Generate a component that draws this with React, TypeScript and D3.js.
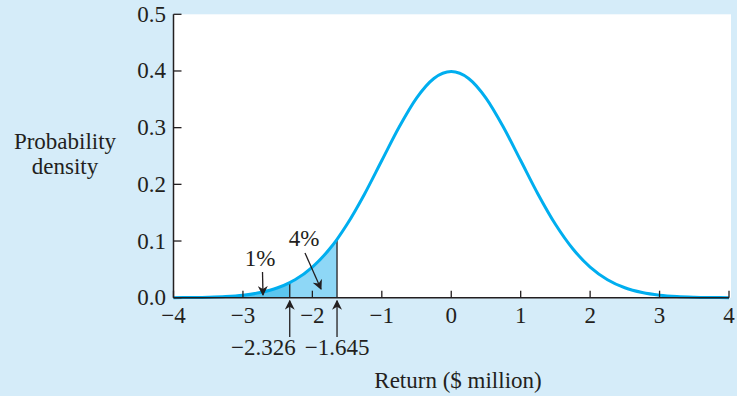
import React from "react";
import * as d3 from "d3";

// Standard normal density
const xs = [-4, -3.75, -3.5, -3.25, -3, -2.75, -2.5, -2.326, -2.25, -2, -1.75, -1.645, -1.5, -1.25, -1, -0.75, -0.5, -0.25, 0,
  0.25, 0.5, 0.75, 1, 1.25, 1.5, 1.75, 2, 2.25, 2.5, 2.75, 3, 3.25, 3.5, 3.75, 4];
const densities = [0.0001, 0.0004, 0.0009, 0.002, 0.0044, 0.0091, 0.0175, 0.0267, 0.0317, 0.054, 0.0863, 0.1031, 0.1295, 0.1826, 0.242, 0.3011, 0.3521, 0.3867, 0.3989,
  0.3867, 0.3521, 0.3011, 0.242, 0.1826, 0.1295, 0.0863, 0.054, 0.0317, 0.0175, 0.0091, 0.0044, 0.002, 0.0009, 0.0004, 0.0001];
const xTicks = [-4, -3, -2, -1, 0, 1, 2, 3, 4];
const yTicks = [0, 0.1, 0.2, 0.3, 0.4, 0.5];
const cutoffs = [-2.326, -1.645];
const cutoffLabels = ["\u22122.326", "\u22121.645"];
const tailLabels = ["1%", "4%"];

const W = 737, H = 396;
const FONT = "'Liberation Serif', 'DejaVu Serif', serif";
const FS = 23;

export default function App() {
  const x = d3.scaleLinear().domain([-4, 4]).range([173.5, 729]);
  const y = d3.scaleLinear().domain([0, 0.5]).range([297.7, 14.3]);
  const pts = xs.map((v, i) => ({ x: v, y: densities[i] }));
  const line = d3.line<{ x: number; y: number }>().x(d => x(d.x)).y(d => y(d.y)).curve(d3.curveMonotoneX);
  const area = d3.area<{ x: number; y: number }>().x(d => x(d.x)).y0(y(0)).y1(d => y(d.y)).curve(d3.curveMonotoneX);
  const tail1 = pts.filter(p => p.x <= cutoffs[0] + 1e-9);
  const tail2 = pts.filter(p => p.x >= cutoffs[0] - 1e-9 && p.x <= cutoffs[1] + 1e-9);
  const fmt = (v: number) => (v < 0 ? "\u2212" + Math.abs(v) : String(v));
  const ink = "#231f20";
  const dens = (c: number) => densities[xs.indexOf(c)];

  return (
    <svg width={W} height={H} style={{ position: "absolute", left: 0, top: 0 }} fontFamily={FONT}>
      <defs>
        <marker id="ah" viewBox="0 0 10 10" refX="9" refY="5" markerWidth="10" markerHeight="10" orient="auto" markerUnits="userSpaceOnUse">
          <path d="M0,0 L10,5 L0,10 L3,5 Z" fill={ink} />
        </marker>
      </defs>
      <rect x={0} y={0} width={W} height={H} fill="#d5ecf9" />
      <rect x={x(-4)} y={y(0.5)} width={x(4) - x(-4) + 2} height={y(0) - y(0.5)} fill="#ffffff" />
      <path d={area(tail1) || ""} fill="#5cc6ef" />
      <path d={area(tail2) || ""} fill="#8ed7f6" />
      {cutoffs.map(c => (
        <line key={c} x1={x(c)} x2={x(c)} y1={y(0)} y2={y(dens(c))} stroke={ink} strokeWidth={1.3} />
      ))}
      <path d={line(pts) || ""} fill="none" stroke="#00aeef" strokeWidth={3} />
      {/* axes */}
      <line x1={x(-4)} x2={x(-4)} y1={y(0)} y2={y(0.5)} stroke={ink} strokeWidth={1.5} />
      <line x1={x(-4)} x2={x(4)} y1={y(0)} y2={y(0)} stroke={ink} strokeWidth={1.5} />
      {yTicks.map(t => (
        <g key={t}>
          <line x1={x(-4)} x2={x(-4) + 8} y1={y(t)} y2={y(t)} stroke={ink} strokeWidth={1.3} />
          <text x={166} y={y(t) + 7.5} textAnchor="end" fontSize={FS} fill={ink}>{t.toFixed(1)}</text>
        </g>
      ))}
      {xTicks.map(t => (
        <g key={t}>
          <line x1={x(t)} x2={x(t)} y1={y(0)} y2={y(0) - 7} stroke={ink} strokeWidth={1.3} />
          <text x={x(t)} y={323} textAnchor="middle" fontSize={FS} fill={ink}>{fmt(t)}</text>
        </g>
      ))}
      {/* cutoff arrows */}
      {cutoffs.map((c, i) => (
        <g key={"a" + c}>
          <line x1={x(c)} x2={x(c)} y1={337} y2={y(0) + 3} stroke={ink} strokeWidth={1.3} markerEnd="url(#ah)" />
          <text x={i === 0 ? x(c) + 6 : x(c)} y={355} textAnchor={i === 0 ? "end" : "middle"} fontSize={FS} fill={ink}>{cutoffLabels[i]}</text>
        </g>
      ))}
      {/* tail labels */}
      <text x={260} y={266} textAnchor="middle" fontSize={FS} fill={ink}>{tailLabels[0]}</text>
      <line x1={262.5} y1={272} x2={263} y2={295} stroke={ink} strokeWidth={1.3} markerEnd="url(#ah)" />
      <text x={304} y={246} textAnchor="middle" fontSize={FS} fill={ink}>{tailLabels[1]}</text>
      <line x1={305} y1={253} x2={321} y2={289} stroke={ink} strokeWidth={1.3} markerEnd="url(#ah)" />
      {/* axis titles */}
      <text x={458} y={388} textAnchor="middle" fontSize={FS} fill={ink}>Return ($ million)</text>
      <text x={65} y={149} textAnchor="middle" fontSize={FS} fill={ink}>Probability</text>
      <text x={65} y={174} textAnchor="middle" fontSize={FS} fill={ink}>density</text>
    </svg>
  );
}
